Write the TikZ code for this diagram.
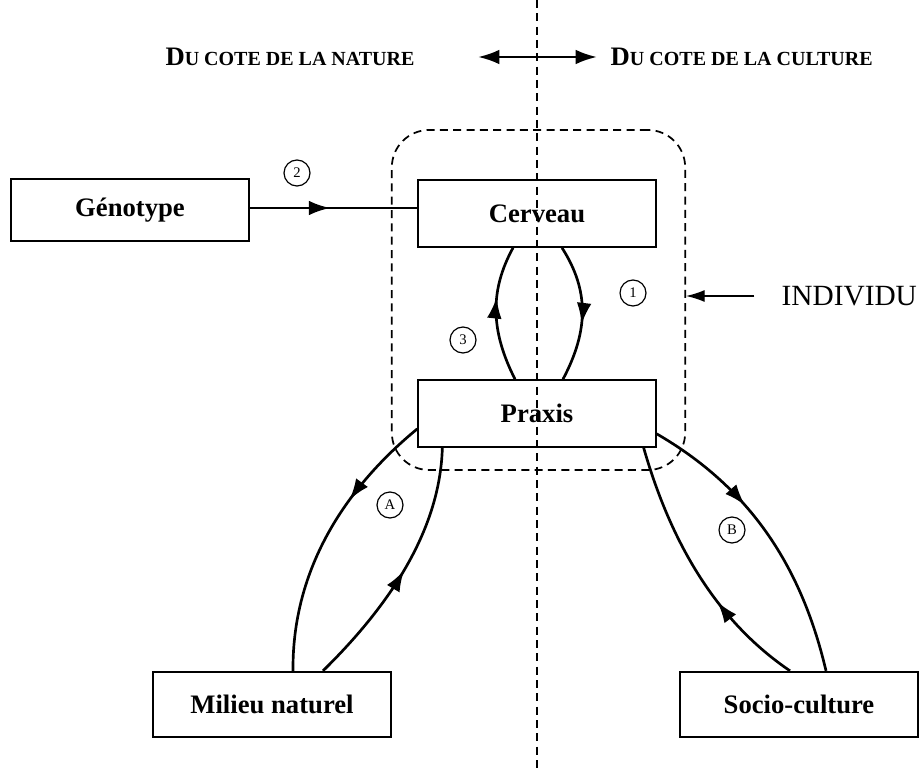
\documentclass[tikz,border=0pt]{standalone}
\usepackage{fontspec}
\setmainfont{Liberation Serif}
\usetikzlibrary{calc,arrows.meta,decorations.markings}

\newcommand\petitescaps[2]{\textbf{{\fontsize{20}{22}\selectfont #1}{\fontsize{15}{18}\selectfont #2}}}

\tikzset{
  box/.style={draw, line width=1.5pt, minimum width=178pt, minimum height=49pt,
    font=\bfseries\fontsize{20}{22}\selectfont},
  num/.style={draw, circle, line width=0.9pt, inner sep=0pt, minimum size=19.5pt,
    font=\fontsize{11}{12}\selectfont},
  tirets/.style={line width=1.3pt, dash pattern=on 6pt off 4pt},
  tip/.style={-{Latex[length=14pt,width=9pt]}},
  flow/.style={line width=2pt, postaction={decorate},
    decoration={markings, mark=at position #1 with {\arrow{Latex[length=16pt,width=11pt]}}}},
}

\begin{document}
\begin{tikzpicture}[x=0.75pt, y=-0.75pt]
\useasboundingbox (0,0) rectangle (923,773);

% ligne de partage nature / culture
\coordinate (haut) at (537,0);
\coordinate (bas) at (537,773);
\draw[tirets] (haut) -- (bas);

\node (nature) at (290,57) {\petitescaps{D}{U COTE DE LA NATURE}};
\node[anchor=west] (culture) at (606,57) {\petitescaps{D}{U COTE DE LA CULTURE}};
\coordinate (gauche) at (478,57);
\coordinate (droite) at (597,57);
\draw[{Latex[length=16pt,width=11pt]}-{Latex[length=16pt,width=11pt]}, line width=2pt] (gauche) -- (droite);

% l'individu
\node[draw, tirets, rounded corners=28pt, minimum width=220pt, minimum height=255pt] (indiv) at (538.5,300) {};
\node[anchor=west, font=\fontsize{22}{24}\selectfont] (lab) at (777,296) {INDIVIDU};
\draw[tip, line width=1pt] ([xshift=-17pt]lab.west) -- (lab.west -| indiv.east);

% les boites
\node[box, minimum height=46pt] (geno) at (130,210) {Génotype};
\node[box, minimum height=50pt] (cerveau) at (537,213.5) {Cerveau};
\node[box, minimum height=50pt] (praxis) at (537,413.5) {Praxis};
\node[box] (milieu) at (272,704.5) {Milieu naturel};
\node[box] (socio) at (799,704.5) {Socio-culture};

\foreach \lab/\x/\y in {1/633/293, 2/297/173, 3/463/340, A/390/505, B/732/530}
  \node[num] (n\lab) at (\x,\y) {\lab};

% les fleches
\draw[flow=0.48] ($(geno.east)+(0,-2)$) -- ($(geno.east -| cerveau.west)+(0,-2)$);

\draw[flow=0.58] ($(cerveau.south)+(25,0)$) .. controls (589,290) and (589,330) .. ($(praxis.north)+(26,0)$);
\draw[flow=0.62] ($(praxis.north)+(-22,0)$) .. controls (490,330) and (490,290) .. ($(cerveau.south)+(-24,0)$);

\draw[flow=0.35] ($(praxis.south west)+(0,-19)$) .. controls (355,480) and (292,560) .. ($(milieu.north)+(21,0)$);
\draw[flow=0.5] ($(milieu.north)+(51,0)$) .. controls (390,605) and (440,530) .. ($(praxis.south west)+(25,0)$);

\draw[flow=0.38] ($(praxis.south east)+(0,-14)$) .. controls (745,485) and (800,560) .. ($(socio.north)+(27,0)$);
\draw[flow=0.37] ($(socio.north)+(-9,0)$) .. controls (715,620) and (670,540) .. ($(praxis.south east)+(-13,0)$);

\end{tikzpicture}
\end{document}
